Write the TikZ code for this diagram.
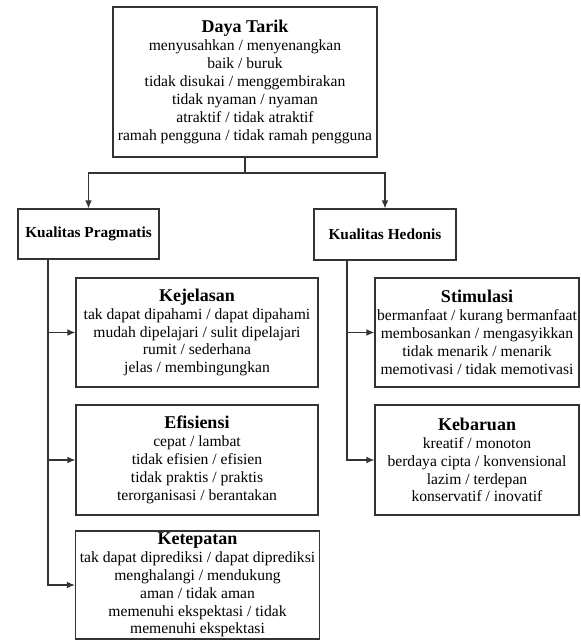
\documentclass[tikz,border=0pt]{standalone}
\usepackage{fontspec}
\setmainfont{Liberation Serif}
\usetikzlibrary{arrows.meta}

\tikzset{
  kotak/.style={draw=black!80, line width=0.9pt, align=center, inner sep=1pt,
    font=\fontsize{11.7}{13.4}\selectfont},
  garis/.style={draw=black!80, line width=0.9pt},
  panah/.style={garis, -{Latex[length=6pt,width=5pt]}}
}
\newcommand{\judul}[1]{{\fontsize{13.5}{14}\selectfont\bfseries #1}}
\newcommand{\kepala}[1]{{\fontsize{11.5}{13}\selectfont\bfseries #1}}

\begin{document}
\begin{tikzpicture}[x=0.75pt,y=0.75pt,yscale=-1]
	\useasboundingbox (0,0) rectangle (581,642);

	% top box
	\node [kotak, minimum width=198pt, minimum height=112.5pt] (daya) at (245,82) {\judul{Daya Tarik}\\
		menyusahkan / menyenangkan\\
		baik / buruk\\
		tidak disukai / menggembirakan\\
		tidak nyaman / nyaman\\
		atraktif / tidak atraktif\\
		ramah pengguna / tidak ramah pengguna};

	% second level
	\node [kotak, minimum width=105.75pt, minimum height=37.5pt] (prag) at (88.5,234) {\kepala{Kualitas Pragmatis}};
	\node [kotak, minimum width=106.5pt, minimum height=38.25pt] (hedo) at (385,234.5) {\kepala{Kualitas Hedonis}};

	% pragmatic side
	\node [kotak, minimum width=181.5pt, minimum height=81.75pt] (jelas) at (197,332.5) {\judul{Kejelasan}\\
		tak dapat dipahami / dapat dipahami\\
		mudah dipelajari / sulit dipelajari\\
		rumit / sederhana\\
		jelas / membingungkan};
	\node [kotak, minimum width=181.5pt, minimum height=82.5pt] (efis) at (197,460) {\judul{Efisiensi}\\
		cepat / lambat\\
		tidak efisien / efisien\\
		tidak praktis / praktis\\
		terorganisasi / berantakan};
	\node [kotak, minimum width=183pt, minimum height=81pt] (tepat) at (197.5,585) {\judul{Ketepatan}\\
		tak dapat diprediksi / dapat diprediksi\\
		menghalangi / mendukung\\
		aman / tidak aman\\
		memenuhi ekspektasi / tidak\\
		memenuhi ekspektasi};

	% hedonic side
	\node [kotak, minimum width=153pt, minimum height=81.75pt] (stim) at (477,332.5) {\judul{Stimulasi}\\
		bermanfaat / kurang bermanfaat\\
		membosankan / mengasyikkan\\
		tidak menarik / menarik\\
		memotivasi / tidak memotivasi};
	\node [kotak, minimum width=153pt, minimum height=82.5pt] (baru) at (477,460) {\judul{Kebaruan}\\
		kreatif / monoton\\
		berdaya cipta / konvensional\\
		lazim / terdepan\\
		konservatif / inovatif};

	% connectors
	\coordinate (cabang) at (245,173);
	\draw [garis] (daya) -- (cabang);
	\draw [panah] (cabang) -| (prag);
	\draw [panah] (cabang) -| (hedo);

	\coordinate (kiri) at (48,259);
	\draw [panah] (kiri) |- (jelas);
	\draw [panah] (kiri) |- (efis);
	\draw [panah] (kiri) |- (tepat);

	\coordinate (kanan) at (347,260);
	\draw [panah] (kanan) |- (stim);
	\draw [panah] (kanan) |- (baru);
\end{tikzpicture}
\end{document}
